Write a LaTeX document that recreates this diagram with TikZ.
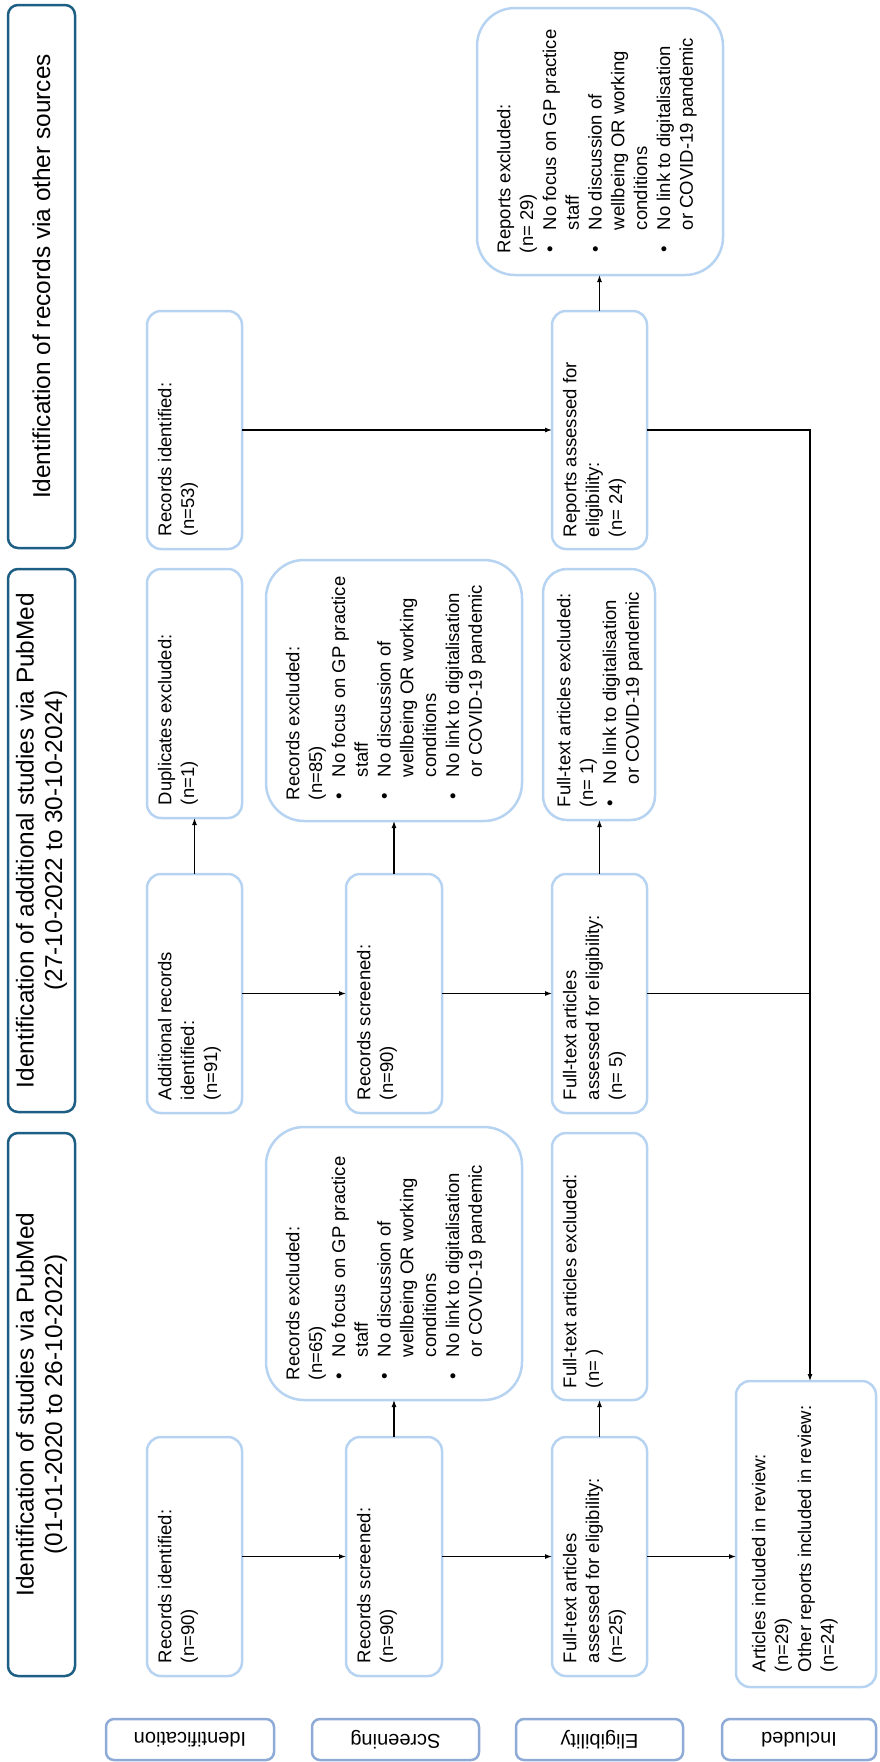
\documentclass[tikz,border=0pt]{standalone}
\usepackage{fontspec}
\setmainfont{Liberation Sans}
\usetikzlibrary{arrows.meta}

\definecolor{hdrblue}{HTML}{1D5E84}
\definecolor{boxblue}{HTML}{B7D3F2}
\definecolor{phaseblue}{HTML}{8EAAD6}

% bullet item and continuation indent for exclusion lists
\newcommand{\bitem}{\makebox[23pt][l]{\hspace{1pt}\textbullet}}
\newcommand{\bcont}{\hspace*{23pt}}

% rectangle node from its corner coordinates: name, x1, y1, x2, y2, style
\newcommand{\drawbox}[6]{%
  \pgfmathsetmacro{\dbw}{#4-#2}\pgfmathsetmacro{\dbh}{#5-#3}%
  \pgfmathsetmacro{\dbx}{(#2+#4)/2}\pgfmathsetmacro{\dby}{(#3+#5)/2}%
  \node[#6, minimum width=\dbw pt, minimum height=\dbh pt] (#1) at (\dbx,\dby) {};}

\tikzset{
  every node/.style={inner sep=0pt, outer sep=0pt},
  frame/.style={rectangle, draw=boxblue, line width=2.5pt, rounded corners=14pt},
  bigframe/.style={frame, rounded corners=38pt},
  midframe/.style={frame, rounded corners=24pt},
  header/.style={rectangle, draw=hdrblue, line width=2.5pt, rounded corners=10pt},
  phase/.style={rectangle, draw=phaseblue, line width=2.5pt, rounded corners=8pt},
  body/.style={rotate=90, anchor=north west, align=left, font=\fontsize{18.5}{22.8}\selectfont},
  htext/.style={rotate=90, align=center, font=\fontsize{24.4}{28.5}\selectfont},
  ptext/.style={rotate=180, font=\fontsize{20}{24}\selectfont},
  flow/.style={line width=1.2pt, -{Latex[length=7pt,width=5pt]}},
  plain/.style={line width=1.2pt},
}

\begin{document}
\begin{tikzpicture}[x=1pt, y=-1pt]
\useasboundingbox (0,0) rectangle (879,1762);

% ---- source headers ----
\drawbox{hA}{8}{5}{75}{548}{header}
\drawbox{hB}{8}{569}{75}{1112}{header}
\drawbox{hC}{8}{1133}{75}{1676}{header}
\node[htext] (hAt) at (hA) {Identification of records via other sources};
\node[htext] (hBt) at (hB) {Identification of additional studies via PubMed\\(27-10-2022 to 30-10-2024)};
\node[htext] (hCt) at (hC) {Identification of studies via PubMed\\(01-01-2020 to 26-10-2022)};

% ---- phase labels ----
\drawbox{pI}{106}{1719}{274}{1760}{phase}
\drawbox{pS}{312}{1719}{479}{1760}{phase}
\drawbox{pE}{516}{1719}{683}{1760}{phase}
\drawbox{pN}{722}{1719}{876}{1760}{phase}
\node[ptext] (pIt) at (pI) {Identification};
\node[ptext] (pSt) at (pS) {Screening};
\node[ptext] (pEt) at (pE) {Eligibility};
\node[ptext] (pNt) at (pN) {Included};

% ---- identification ----
\drawbox{b53}{147}{311}{242}{549}{frame}
\drawbox{dup}{147}{569}{242}{818}{frame}
\drawbox{add91}{147}{874}{242}{1113}{frame}
\drawbox{rid90}{147}{1437}{242}{1676}{frame}
\node[body] (b53t) at ([xshift=11pt, yshift=13pt]b53.south west) {Records identified:\\(n=53)};
\node[body] (dupt) at ([xshift=11pt, yshift=13pt]dup.south west) {Duplicates excluded:\\(n=1)};
\node[body] (add91t) at ([xshift=11pt, yshift=13pt]add91.south west) {Additional records\\identified:\\(n=91)};
\node[body] (rid90t) at ([xshift=11pt, yshift=13pt]rid90.south west) {Records identified:\\(n=90)};

% ---- screening ----
\drawbox{scr2}{346}{874}{442}{1113}{frame}
\drawbox{scr1}{346}{1437}{442}{1676}{frame}
\drawbox{exc85}{266}{560}{522}{821}{bigframe}
\drawbox{exc65}{266}{1127}{522}{1400}{bigframe}
\node[body] (scr2t) at ([xshift=11pt, yshift=13pt]scr2.south west) {Records screened:\\(n=90)};
\node[body] (scr1t) at ([xshift=11pt, yshift=13pt]scr1.south west) {Records screened:\\(n=90)};
\node[body] (exc85t) at ([xshift=20pt, yshift=21pt]exc85.south west) {Records excluded:\\(n=85)\\
  \bitem No focus on GP practice\\\bcont staff\\
  \bitem No discussion of\\\bcont wellbeing OR working\\\bcont conditions\\
  \bitem No link to digitalisation\\\bcont or COVID-19 pandemic};
\node[body] (exc65t) at ([xshift=20pt, yshift=20pt]exc65.south west) {Records excluded:\\(n=65)\\
  \bitem No focus on GP practice\\\bcont staff\\
  \bitem No discussion of\\\bcont wellbeing OR working\\\bcont conditions\\
  \bitem No link to digitalisation\\\bcont or COVID-19 pandemic};

% ---- eligibility ----
\drawbox{rep24}{552}{311}{647}{549}{frame}
\drawbox{fte1}{543}{569}{655}{820}{midframe}
\drawbox{fte5}{552}{874}{647}{1113}{frame}
\drawbox{fteb}{552}{1133}{647}{1400}{frame}
\drawbox{fte25}{552}{1437}{647}{1676}{frame}
\drawbox{rexc}{477}{8}{723}{275}{bigframe}
\node[body] (rep24t) at ([xshift=11pt, yshift=12pt]rep24.south west) {Reports assessed for\\eligibility:\\(n= 24)};
\node[body] (fte1t) at ([xshift=14pt, yshift=13pt]fte1.south west) {Full-text articles excluded:\\(n= 1)\\
  \bitem No link to digitalisation\\\bcont or COVID-19 pandemic};
\node[body] (fte5t) at ([xshift=11pt, yshift=13pt]fte5.south west) {Full-text articles\\assessed for eligibility:\\(n= 5)};
\node[body] (ftebt) at ([xshift=11pt, yshift=12pt]fteb.south west) {Full-text articles excluded:\\(n= )};
\node[body] (fte25t) at ([xshift=11pt, yshift=13pt]fte25.south west) {Full-text articles\\assessed for eligibility:\\(n=25)};
\node[body] (rexct) at ([xshift=20pt, yshift=22pt]rexc.south west) {Reports excluded:\\(n= 29)\\
  \bitem No focus on GP practice\\\bcont staff\\
  \bitem No discussion of\\\bcont wellbeing OR working\\\bcont conditions\\
  \bitem No link to digitalisation\\\bcont or COVID-19 pandemic};

% ---- included ----
\drawbox{incl}{736}{1381}{876}{1687}{frame}
\node[body] (inclt) at ([xshift=16pt, yshift=15pt]incl.south west) {Articles included in review:\\(n=29)\\Other reports included in review:\\(n=24)};

% ---- connectors ----
\coordinate (jx) at (810,430);
\draw[flow] (rid90.east) -- (scr1.west);
\draw[flow] (scr1.east) -- (fte25.west);
\draw[flow] (fte25.east) -- (fte25.east -| incl.west);
\draw[flow] (scr1.north) -- (scr1.north |- exc65.south);
\draw[flow] (fte25.north) -- (fte25.north |- fteb.south);
\draw[flow] (add91.north) -- (add91.north |- dup.south);
\draw[flow] (add91.east) -- (scr2.west);
\draw[flow] (scr2.north) -- (scr2.north |- exc85.south);
\draw[flow] (scr2.east) -- (fte5.west);
\draw[flow] (fte5.north) -- (fte5.north |- fte1.south);
\draw[flow] (b53.east) -- (rep24.west);
\draw[flow] (rep24.north) -- (rep24.north |- rexc.south);
\draw[flow] (rep24.east) -- (rep24.east -| jx) -- (jx |- incl.north);
\draw[plain] (fte5.east) -- (fte5.east -| jx);
\end{tikzpicture}
\end{document}
